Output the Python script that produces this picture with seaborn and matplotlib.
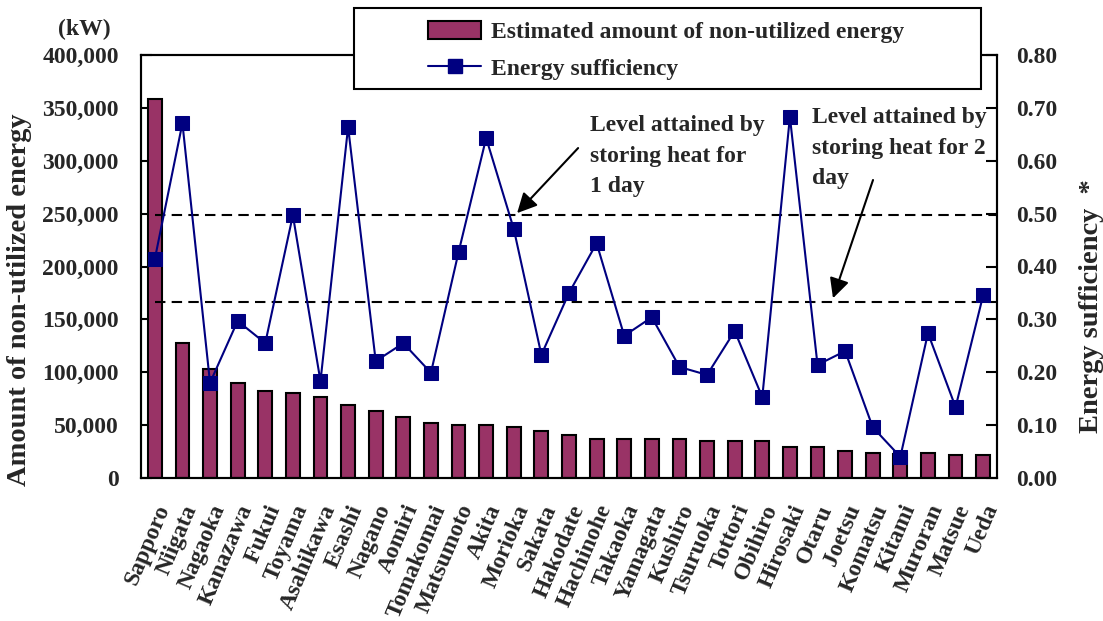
import numpy as np
import pandas as pd
import matplotlib
matplotlib.use("Agg")
import matplotlib.pyplot as plt
from matplotlib.patches import Rectangle, Patch
from matplotlib.lines import Line2D
from matplotlib.ticker import FuncFormatter, FixedLocator
import seaborn as sns

cities = ["Sapporo", "Niigata", "Nagaoka", "Kanazawa", "Fukui", "Toyama",
          "Asahikawa", "Esashi", "Nagano", "Aomiri", "Tomakomai", "Matsumoto",
          "Akita", "Morioka", "Sakata", "Hakodate", "Hachinohe", "Takaoka",
          "Yamagata", "Kushiro", "Tsuruoka", "Tottori", "Obihiro", "Hirosaki",
          "Otaru", "Joetsu", "Komatsu", "Kitami", "Muroran", "Matsue", "Ueda"]

# Estimated amount of non-utilized energy (kW)
energy_kw = [358000, 127500, 103000, 90000, 82300, 80400,
             76600, 69000, 63400, 57700, 52000, 50100,
             50000, 48200, 44400, 40700, 36900, 36900,
             36900, 36900, 35000, 35000, 35000, 29300,
             29300, 25500, 23600, 22500, 23600, 21700, 21700]

# Energy sufficiency (ratio)
sufficiency = [0.414, 0.671, 0.180, 0.297, 0.255, 0.497,
               0.183, 0.664, 0.221, 0.255, 0.199, 0.427,
               0.643, 0.471, 0.233, 0.350, 0.444, 0.269,
               0.304, 0.210, 0.195, 0.278, 0.153, 0.683,
               0.214, 0.240, 0.096, 0.040, 0.274, 0.134, 0.346]

level_1day = 0.497
level_2day = 0.333

bar_label = "Estimated amount of non-utilized energy"
line_label = "Energy sufficiency"

sns.set_theme(style="white")
plt.rcParams["font.family"] = ["Liberation Serif", "DejaVu Serif"]
plt.rcParams["font.weight"] = "bold"
plt.rcParams["axes.labelweight"] = "bold"

BAR_COLOR = "#993366"
LINE_COLOR = "#000080"
FS = 17
LABEL_FS = 20.5

df = pd.DataFrame({"city": cities, "energy": energy_kw, "suff": sufficiency})

fig = plt.figure(figsize=(11.03, 6.21), dpi=100)
ax = fig.add_axes([141 / 1103, 1 - 478 / 621, (997 - 141) / 1103, (478 - 55) / 621])

sns.barplot(data=df, x="city", y="energy", ax=ax, color=BAR_COLOR,
            width=0.5, edgecolor="black", linewidth=1.5, saturation=1)
ax.set_xlim(-0.5, len(cities) - 0.5)
ax.set_ylim(0, 400000)
ax.yaxis.set_major_locator(FixedLocator(np.arange(0, 400001, 50000)))
ax.yaxis.set_major_formatter(FuncFormatter(lambda v, p: f"{int(v):,}"))
ax.set_xlabel("")
ax.set_ylabel("")

# category labels at bar centres, tick marks between categories
ax.set_xticks(np.arange(len(cities)))
ax.set_xticklabels(cities, rotation=67, ha="right", rotation_mode="anchor",
                   fontsize=FS, fontweight="bold")
ax.tick_params(axis="x", which="major", length=0, pad=17)
ax.set_xticks(np.arange(len(cities) - 1) + 0.5, minor=True)
ax.tick_params(axis="x", which="minor", direction="in", length=6, width=1.5, color="black")
ax.tick_params(axis="y", direction="in", length=8, width=1.5, color="black",
               labelsize=FS, pad=16)
for lab in ax.get_yticklabels():
    lab.set_fontweight("bold")

for s in ax.spines.values():
    s.set_color("black")
    s.set_linewidth(1.5)

ax2 = ax.twinx()
sns.lineplot(x=np.arange(len(cities)), y=sufficiency, ax=ax2, color=LINE_COLOR,
             linewidth=1.5, marker="s", markersize=10, markeredgecolor=LINE_COLOR,
             markerfacecolor=LINE_COLOR, sort=False, zorder=5)
ax2.set_ylim(0, 0.8)
ax2.yaxis.set_major_locator(FixedLocator(np.arange(0, 0.81, 0.1)))
ax2.yaxis.set_major_formatter(FuncFormatter(lambda v, p: f"{v:.2f}"))
ax2.tick_params(axis="y", direction="in", length=8, width=1.5, color="black",
                labelsize=FS, pad=14)
for lab in ax2.get_yticklabels():
    lab.set_fontweight("bold")
ax2.set_ylabel("")
for s in ax2.spines.values():
    s.set_color("black")
    s.set_linewidth(1.5)

# axis titles
fig.text(20 / 1103, 1 - 300 / 621, "Amount of non-utilized energy", rotation=90,
         ha="center", va="center", fontsize=LABEL_FS, fontweight="bold")
fig.text(1091 / 1103, 1 - 306 / 621, "Energy sufficiency  *", rotation=90,
         ha="center", va="center", fontsize=LABEL_FS, fontweight="bold")
fig.text(84 / 1103, 1 - 29 / 621, "(kW)", ha="center", va="center",
         fontsize=FS, fontweight="bold")

# reference levels for heat storage
for lvl in (level_1day, level_2day):
    ax2.hlines(lvl, 0, len(cities) - 0.5, colors="black", linestyles=(0, (5, 3)),
               linewidth=1.5, zorder=3)

arrow = dict(arrowstyle="-|>", color="black", lw=1.5, mutation_scale=30,
             shrinkA=0, shrinkB=0)
ax2.annotate("", xy=(13.12, level_1day + 0.004), xytext=(15.33, 0.624), arrowprops=arrow)
ax2.text(15.76, 0.6865, "Level attained by\nstoring heat for\n1 day", ha="left", va="top",
         fontsize=FS, fontweight="bold", linespacing=1.6)
ax2.annotate("", xy=(24.56, level_2day + 0.007), xytext=(26.01, 0.5636), arrowprops=arrow)
ax2.text(23.80, 0.7017, "Level attained by\nstoring heat for 2\nday", ha="left", va="top",
         fontsize=FS, fontweight="bold", linespacing=1.6)

# legend box
fig.patches.append(Rectangle((354 / 1103, 1 - 89 / 621), (981 - 354) / 1103, 81 / 621,
                             transform=fig.transFigure, facecolor="white",
                             edgecolor="black", linewidth=1.5, zorder=10))
handles = [Patch(facecolor=BAR_COLOR, edgecolor="black", linewidth=1.5),
           Line2D([0], [0], color=LINE_COLOR, lw=1.5, marker="s", markersize=10)]
leg = fig.legend(handles, [bar_label, line_label], loc="upper left",
                 bbox_to_anchor=(414 / 1103, 1 - 7 / 621), frameon=False,
                 prop={"size": FS, "weight": "bold"}, handlelength=2.25,
                 handleheight=0.8, handletextpad=0.4, labelspacing=0.6,
                 borderpad=0.1)
leg.set_zorder(11)

fig.savefig("out.png", dpi=100)
